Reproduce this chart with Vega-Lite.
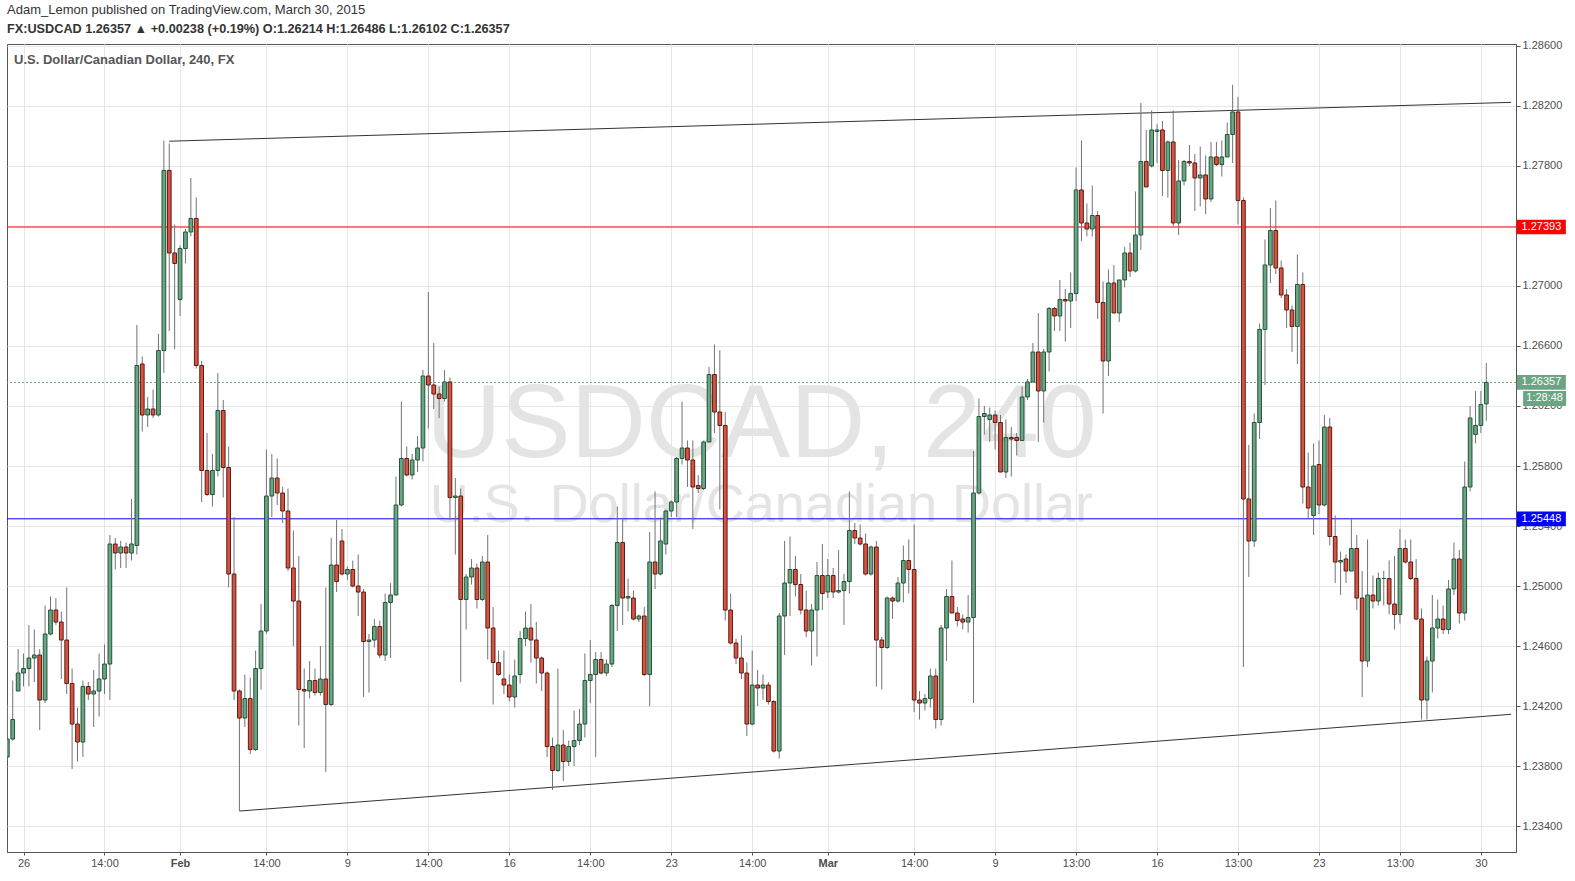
{
"$schema": "https://vega.github.io/schema/vega-lite/v6.json",
"width": 1509,
"height": 808,
"autosize": {"type": "none"},
"padding": {"left": 7, "top": 44, "right": 59, "bottom": 29},
"background": "#ffffff",
"config": {"view": {"stroke": "#555555", "strokeWidth": 1}, "font": "Liberation Sans"},
"title": {
  "text": "Adam_Lemon published on TradingView.com, March 30, 2015",
  "subtitle": "FX:USDCAD 1.26357 ▲ +0.00238 (+0.19%) O:1.26214 H:1.26486 L:1.26102 C:1.26357",
  "anchor": "start", "frame": "group", "font": "Liberation Sans", "fontSize": 13, "fontWeight": "normal", "color": "#333333",
  "subtitleFont": "Liberation Sans", "subtitleFontSize": 12.7, "subtitleFontWeight": "bold", "subtitleColor": "#333333", "subtitlePadding": 6, "offset": 4
},
"datasets": {
  "candles": [
{"i":0,"o":1.2386,"h":1.2421,"l":1.2384,"c":1.2398},
{"i":1,"o":1.2398,"h":1.2437,"l":1.2397,"c":1.2411},
{"i":2,"o":1.2430,"h":1.2458,"l":1.2430,"c":1.2442},
{"i":3,"o":1.2442,"h":1.2455,"l":1.2433,"c":1.2445},
{"i":4,"o":1.2445,"h":1.2474,"l":1.2433,"c":1.2452},
{"i":5,"o":1.2452,"h":1.2471,"l":1.2436,"c":1.2454},
{"i":6,"o":1.2454,"h":1.2458,"l":1.2404,"c":1.2424},
{"i":7,"o":1.2424,"h":1.2487,"l":1.2422,"c":1.2468},
{"i":8,"o":1.2468,"h":1.2493,"l":1.2467,"c":1.2484},
{"i":9,"o":1.2484,"h":1.2492,"l":1.2474,"c":1.2476},
{"i":10,"o":1.2476,"h":1.2483,"l":1.2438,"c":1.2464},
{"i":11,"o":1.2464,"h":1.2499,"l":1.2428,"c":1.2435},
{"i":12,"o":1.2435,"h":1.2445,"l":1.2378,"c":1.2408},
{"i":13,"o":1.2408,"h":1.2419,"l":1.2383,"c":1.2396},
{"i":14,"o":1.2396,"h":1.2437,"l":1.2386,"c":1.2433},
{"i":15,"o":1.2433,"h":1.2436,"l":1.2424,"c":1.2428},
{"i":16,"o":1.2428,"h":1.2444,"l":1.2406,"c":1.2430},
{"i":17,"o":1.2430,"h":1.2455,"l":1.2413,"c":1.2438},
{"i":18,"o":1.2438,"h":1.2461,"l":1.2428,"c":1.2448},
{"i":19,"o":1.2448,"h":1.2534,"l":1.2424,"c":1.2528},
{"i":20,"o":1.2528,"h":1.2532,"l":1.2511,"c":1.2522},
{"i":21,"o":1.2522,"h":1.2530,"l":1.2512,"c":1.2526},
{"i":22,"o":1.2526,"h":1.2529,"l":1.2512,"c":1.2522},
{"i":23,"o":1.2522,"h":1.2558,"l":1.2517,"c":1.2528},
{"i":24,"o":1.2527,"h":1.2674,"l":1.2521,"c":1.2647},
{"i":25,"o":1.2648,"h":1.2653,"l":1.2603,"c":1.2614},
{"i":26,"o":1.2614,"h":1.2626,"l":1.2606,"c":1.2618},
{"i":27,"o":1.2618,"h":1.2631,"l":1.2612,"c":1.2614},
{"i":28,"o":1.2614,"h":1.2668,"l":1.2613,"c":1.2657},
{"i":29,"o":1.2657,"h":1.2797,"l":1.2642,"c":1.2777},
{"i":30,"o":1.2777,"h":1.2795,"l":1.2670,"c":1.2722},
{"i":31,"o":1.2722,"h":1.2741,"l":1.2658,"c":1.2715},
{"i":32,"o":1.2691,"h":1.2727,"l":1.2680,"c":1.2725},
{"i":33,"o":1.2725,"h":1.2738,"l":1.2715,"c":1.2736},
{"i":34,"o":1.2736,"h":1.2772,"l":1.2733,"c":1.2745},
{"i":35,"o":1.2745,"h":1.2759,"l":1.2645,"c":1.2647},
{"i":36,"o":1.2647,"h":1.2650,"l":1.2556,"c":1.2577},
{"i":37,"o":1.2577,"h":1.2602,"l":1.2560,"c":1.2561},
{"i":38,"o":1.2561,"h":1.2588,"l":1.2553,"c":1.2577},
{"i":39,"o":1.2577,"h":1.2642,"l":1.2573,"c":1.2617},
{"i":40,"o":1.2617,"h":1.2624,"l":1.2559,"c":1.2579},
{"i":41,"o":1.2579,"h":1.2593,"l":1.2499,"c":1.2508},
{"i":42,"o":1.2508,"h":1.2546,"l":1.2424,"c":1.2430},
{"i":43,"o":1.2430,"h":1.2431,"l":1.2350,"c":1.2412},
{"i":44,"o":1.2412,"h":1.2441,"l":1.2406,"c":1.2425},
{"i":45,"o":1.2425,"h":1.2439,"l":1.2388,"c":1.2391},
{"i":46,"o":1.2391,"h":1.2457,"l":1.2390,"c":1.2445},
{"i":47,"o":1.2445,"h":1.2488,"l":1.2431,"c":1.2470},
{"i":48,"o":1.2470,"h":1.2591,"l":1.2468,"c":1.2560},
{"i":49,"o":1.2560,"h":1.2588,"l":1.2546,"c":1.2572},
{"i":50,"o":1.2572,"h":1.2585,"l":1.2554,"c":1.2562},
{"i":51,"o":1.2562,"h":1.2566,"l":1.2542,"c":1.2550},
{"i":52,"o":1.2550,"h":1.2565,"l":1.2510,"c":1.2512},
{"i":53,"o":1.2512,"h":1.2537,"l":1.2460,"c":1.2490},
{"i":54,"o":1.2490,"h":1.2520,"l":1.2407,"c":1.2431},
{"i":55,"o":1.2431,"h":1.2445,"l":1.2392,"c":1.2430},
{"i":56,"o":1.2430,"h":1.2450,"l":1.2425,"c":1.2437},
{"i":57,"o":1.2437,"h":1.2445,"l":1.2427,"c":1.2429},
{"i":58,"o":1.2429,"h":1.2460,"l":1.2427,"c":1.2438},
{"i":59,"o":1.2438,"h":1.2499,"l":1.2376,"c":1.2421},
{"i":60,"o":1.2421,"h":1.2532,"l":1.2420,"c":1.2514},
{"i":61,"o":1.2514,"h":1.2544,"l":1.2496,"c":1.2503},
{"i":62,"o":1.2530,"h":1.2538,"l":1.2507,"c":1.2508},
{"i":63,"o":1.2508,"h":1.2513,"l":1.2504,"c":1.2511},
{"i":64,"o":1.2511,"h":1.2517,"l":1.2499,"c":1.2500},
{"i":65,"o":1.2500,"h":1.2521,"l":1.2480,"c":1.2496},
{"i":66,"o":1.2496,"h":1.2498,"l":1.2426,"c":1.2463},
{"i":67,"o":1.2463,"h":1.2468,"l":1.2429,"c":1.2464},
{"i":68,"o":1.2464,"h":1.2478,"l":1.2459,"c":1.2473},
{"i":69,"o":1.2473,"h":1.2477,"l":1.2452,"c":1.2454},
{"i":70,"o":1.2454,"h":1.2495,"l":1.2450,"c":1.2489},
{"i":71,"o":1.2489,"h":1.2502,"l":1.2452,"c":1.2494},
{"i":72,"o":1.2494,"h":1.2573,"l":1.2494,"c":1.2554},
{"i":73,"o":1.2554,"h":1.2623,"l":1.2553,"c":1.2585},
{"i":74,"o":1.2585,"h":1.2593,"l":1.2573,"c":1.2574},
{"i":75,"o":1.2574,"h":1.2588,"l":1.2571,"c":1.2584},
{"i":76,"o":1.2584,"h":1.2600,"l":1.2576,"c":1.2592},
{"i":77,"o":1.2592,"h":1.2644,"l":1.2583,"c":1.2640},
{"i":78,"o":1.2640,"h":1.2696,"l":1.2605,"c":1.2634},
{"i":79,"o":1.2634,"h":1.2662,"l":1.2618,"c":1.2628},
{"i":80,"o":1.2628,"h":1.2633,"l":1.2612,"c":1.2625},
{"i":81,"o":1.2625,"h":1.2644,"l":1.2623,"c":1.2636},
{"i":82,"o":1.2636,"h":1.2639,"l":1.2544,"c":1.2559},
{"i":83,"o":1.2559,"h":1.2572,"l":1.2521,"c":1.2560},
{"i":84,"o":1.2560,"h":1.2565,"l":1.2436,"c":1.2491},
{"i":85,"o":1.2491,"h":1.2508,"l":1.2471,"c":1.2506},
{"i":86,"o":1.2506,"h":1.2518,"l":1.2501,"c":1.2512},
{"i":87,"o":1.2512,"h":1.2515,"l":1.2485,"c":1.2491},
{"i":88,"o":1.2491,"h":1.2520,"l":1.2490,"c":1.2516},
{"i":89,"o":1.2516,"h":1.2534,"l":1.2451,"c":1.2472},
{"i":90,"o":1.2472,"h":1.2486,"l":1.2421,"c":1.2449},
{"i":91,"o":1.2449,"h":1.2457,"l":1.2440,"c":1.2441},
{"i":92,"o":1.2438,"h":1.2457,"l":1.2428,"c":1.2434},
{"i":93,"o":1.2434,"h":1.2441,"l":1.2423,"c":1.2426},
{"i":94,"o":1.2426,"h":1.2451,"l":1.2419,"c":1.2440},
{"i":95,"o":1.2441,"h":1.2470,"l":1.2435,"c":1.2465},
{"i":96,"o":1.2465,"h":1.2483,"l":1.2460,"c":1.2472},
{"i":97,"o":1.2472,"h":1.2488,"l":1.2449,"c":1.2464},
{"i":98,"o":1.2464,"h":1.2476,"l":1.2435,"c":1.2452},
{"i":99,"o":1.2452,"h":1.2453,"l":1.2430,"c":1.2442},
{"i":100,"o":1.2442,"h":1.2443,"l":1.2386,"c":1.2393},
{"i":101,"o":1.2393,"h":1.2399,"l":1.2364,"c":1.2377},
{"i":102,"o":1.2377,"h":1.2445,"l":1.2376,"c":1.2394},
{"i":103,"o":1.2394,"h":1.2404,"l":1.2370,"c":1.2383},
{"i":104,"o":1.2383,"h":1.2397,"l":1.2380,"c":1.2393},
{"i":105,"o":1.2393,"h":1.2417,"l":1.2380,"c":1.2397},
{"i":106,"o":1.2397,"h":1.2418,"l":1.2394,"c":1.2408},
{"i":107,"o":1.2408,"h":1.2455,"l":1.2399,"c":1.2437},
{"i":108,"o":1.2437,"h":1.2464,"l":1.2422,"c":1.2441},
{"i":109,"o":1.2441,"h":1.2456,"l":1.2386,"c":1.2451},
{"i":110,"o":1.2451,"h":1.2456,"l":1.2441,"c":1.2442},
{"i":111,"o":1.2442,"h":1.2451,"l":1.2440,"c":1.2448},
{"i":112,"o":1.2448,"h":1.2488,"l":1.2446,"c":1.2487},
{"i":113,"o":1.2487,"h":1.2553,"l":1.2470,"c":1.2529},
{"i":114,"o":1.2529,"h":1.2545,"l":1.2474,"c":1.2492},
{"i":115,"o":1.2492,"h":1.2505,"l":1.2483,"c":1.2493},
{"i":116,"o":1.2492,"h":1.2497,"l":1.2477,"c":1.2478},
{"i":117,"o":1.2478,"h":1.2481,"l":1.2476,"c":1.2480},
{"i":118,"o":1.2480,"h":1.2486,"l":1.2440,"c":1.2441},
{"i":119,"o":1.2441,"h":1.2536,"l":1.2420,"c":1.2516},
{"i":120,"o":1.2516,"h":1.2563,"l":1.2498,"c":1.2508},
{"i":121,"o":1.2508,"h":1.2545,"l":1.2507,"c":1.2530},
{"i":122,"o":1.2528,"h":1.2551,"l":1.2521,"c":1.2550},
{"i":123,"o":1.2550,"h":1.2557,"l":1.2546,"c":1.2556},
{"i":124,"o":1.2556,"h":1.2586,"l":1.2546,"c":1.2585},
{"i":125,"o":1.2585,"h":1.2623,"l":1.2581,"c":1.2592},
{"i":126,"o":1.2592,"h":1.2597,"l":1.2566,"c":1.2584},
{"i":127,"o":1.2584,"h":1.2597,"l":1.2538,"c":1.2566},
{"i":128,"o":1.2567,"h":1.2574,"l":1.2562,"c":1.2565},
{"i":129,"o":1.2565,"h":1.2597,"l":1.2564,"c":1.2596},
{"i":130,"o":1.2596,"h":1.2646,"l":1.2596,"c":1.2641},
{"i":131,"o":1.2641,"h":1.2661,"l":1.2602,"c":1.2616},
{"i":132,"o":1.2616,"h":1.2657,"l":1.2551,"c":1.2607},
{"i":133,"o":1.2607,"h":1.2616,"l":1.2477,"c":1.2484},
{"i":134,"o":1.2484,"h":1.2495,"l":1.2461,"c":1.2462},
{"i":135,"o":1.2462,"h":1.2465,"l":1.2448,"c":1.2452},
{"i":136,"o":1.2452,"h":1.2467,"l":1.2438,"c":1.2442},
{"i":137,"o":1.2442,"h":1.2449,"l":1.2400,"c":1.2408},
{"i":138,"o":1.2408,"h":1.2457,"l":1.2407,"c":1.2434},
{"i":139,"o":1.2434,"h":1.2444,"l":1.2420,"c":1.2432},
{"i":140,"o":1.2432,"h":1.2441,"l":1.2424,"c":1.2434},
{"i":141,"o":1.2434,"h":1.2436,"l":1.2421,"c":1.2423},
{"i":142,"o":1.2423,"h":1.2424,"l":1.2389,"c":1.2390},
{"i":143,"o":1.2390,"h":1.2482,"l":1.2385,"c":1.2480},
{"i":144,"o":1.2480,"h":1.2530,"l":1.2454,"c":1.2502},
{"i":145,"o":1.2502,"h":1.2533,"l":1.2480,"c":1.2511},
{"i":146,"o":1.2511,"h":1.2520,"l":1.2493,"c":1.2501},
{"i":147,"o":1.2501,"h":1.2508,"l":1.2481,"c":1.2484},
{"i":148,"o":1.2484,"h":1.2497,"l":1.2466,"c":1.2470},
{"i":149,"o":1.2470,"h":1.2488,"l":1.2447,"c":1.2484},
{"i":150,"o":1.2484,"h":1.2516,"l":1.2453,"c":1.2507},
{"i":151,"o":1.2507,"h":1.2528,"l":1.2484,"c":1.2495},
{"i":152,"o":1.2496,"h":1.2518,"l":1.2492,"c":1.2507},
{"i":153,"o":1.2507,"h":1.2512,"l":1.2492,"c":1.2496},
{"i":154,"o":1.2496,"h":1.2524,"l":1.2495,"c":1.2497},
{"i":155,"o":1.2497,"h":1.2508,"l":1.2474,"c":1.2503},
{"i":156,"o":1.2503,"h":1.2563,"l":1.2495,"c":1.2537},
{"i":157,"o":1.2537,"h":1.2542,"l":1.2528,"c":1.2532},
{"i":158,"o":1.2532,"h":1.2541,"l":1.2527,"c":1.2528},
{"i":159,"o":1.2528,"h":1.2535,"l":1.2507,"c":1.2508},
{"i":160,"o":1.2508,"h":1.2527,"l":1.2507,"c":1.2526},
{"i":161,"o":1.2526,"h":1.2530,"l":1.2433,"c":1.2464},
{"i":162,"o":1.2464,"h":1.2466,"l":1.2431,"c":1.2459},
{"i":163,"o":1.2459,"h":1.2493,"l":1.2458,"c":1.2492},
{"i":164,"o":1.2492,"h":1.2493,"l":1.2478,"c":1.2490},
{"i":165,"o":1.2490,"h":1.2506,"l":1.2489,"c":1.2502},
{"i":166,"o":1.2502,"h":1.2527,"l":1.2489,"c":1.2517},
{"i":167,"o":1.2517,"h":1.2531,"l":1.2495,"c":1.2511},
{"i":168,"o":1.2511,"h":1.2541,"l":1.2416,"c":1.2424},
{"i":169,"o":1.2424,"h":1.2430,"l":1.2411,"c":1.2422},
{"i":170,"o":1.2422,"h":1.2428,"l":1.2417,"c":1.2425},
{"i":171,"o":1.2425,"h":1.2445,"l":1.2419,"c":1.2440},
{"i":172,"o":1.2440,"h":1.2445,"l":1.2405,"c":1.2411},
{"i":173,"o":1.2411,"h":1.2474,"l":1.2407,"c":1.2472},
{"i":174,"o":1.2472,"h":1.2498,"l":1.2450,"c":1.2493},
{"i":175,"o":1.2493,"h":1.2517,"l":1.2482,"c":1.2482},
{"i":176,"o":1.2482,"h":1.2486,"l":1.2473,"c":1.2477},
{"i":177,"o":1.2478,"h":1.2481,"l":1.2471,"c":1.2476},
{"i":178,"o":1.2476,"h":1.2494,"l":1.2469,"c":1.2479},
{"i":179,"o":1.2479,"h":1.2590,"l":1.2422,"c":1.2562},
{"i":180,"o":1.2562,"h":1.2625,"l":1.2561,"c":1.2613},
{"i":181,"o":1.2613,"h":1.2620,"l":1.2601,"c":1.2615},
{"i":182,"o":1.2611,"h":1.2619,"l":1.2596,"c":1.2614},
{"i":183,"o":1.2614,"h":1.2617,"l":1.2591,"c":1.2609},
{"i":184,"o":1.2609,"h":1.2614,"l":1.2576,"c":1.2576},
{"i":185,"o":1.2576,"h":1.2611,"l":1.2572,"c":1.2599},
{"i":186,"o":1.2599,"h":1.2606,"l":1.2573,"c":1.2598},
{"i":187,"o":1.2599,"h":1.2602,"l":1.2587,"c":1.2597},
{"i":188,"o":1.2597,"h":1.2633,"l":1.2597,"c":1.2626},
{"i":189,"o":1.2626,"h":1.2638,"l":1.2624,"c":1.2636},
{"i":190,"o":1.2636,"h":1.2662,"l":1.2636,"c":1.2656},
{"i":191,"o":1.2656,"h":1.2682,"l":1.2596,"c":1.2630},
{"i":192,"o":1.2630,"h":1.2658,"l":1.2609,"c":1.2656},
{"i":193,"o":1.2656,"h":1.2686,"l":1.2643,"c":1.2685},
{"i":194,"o":1.2685,"h":1.2686,"l":1.2670,"c":1.2680},
{"i":195,"o":1.2680,"h":1.2704,"l":1.2670,"c":1.2691},
{"i":196,"o":1.2691,"h":1.2698,"l":1.2663,"c":1.2690},
{"i":197,"o":1.2690,"h":1.2709,"l":1.2672,"c":1.2695},
{"i":198,"o":1.2695,"h":1.2779,"l":1.2690,"c":1.2764},
{"i":199,"o":1.2764,"h":1.2797,"l":1.2730,"c":1.2742},
{"i":200,"o":1.2742,"h":1.2755,"l":1.2733,"c":1.2738},
{"i":201,"o":1.2738,"h":1.2767,"l":1.2733,"c":1.2747},
{"i":202,"o":1.2747,"h":1.2750,"l":1.2678,"c":1.2689},
{"i":203,"o":1.2689,"h":1.2703,"l":1.2615,"c":1.2650},
{"i":204,"o":1.2650,"h":1.2711,"l":1.2640,"c":1.2702},
{"i":205,"o":1.2702,"h":1.2714,"l":1.2682,"c":1.2682},
{"i":206,"o":1.2682,"h":1.2704,"l":1.2676,"c":1.2704},
{"i":207,"o":1.2704,"h":1.2726,"l":1.2699,"c":1.2722},
{"i":208,"o":1.2722,"h":1.2729,"l":1.2706,"c":1.2710},
{"i":209,"o":1.2710,"h":1.2763,"l":1.2709,"c":1.2734},
{"i":210,"o":1.2734,"h":1.2822,"l":1.2724,"c":1.2783},
{"i":211,"o":1.2783,"h":1.2804,"l":1.2766,"c":1.2766},
{"i":212,"o":1.2780,"h":1.2817,"l":1.2779,"c":1.2804},
{"i":213,"o":1.2803,"h":1.2808,"l":1.2782,"c":1.2804},
{"i":214,"o":1.2804,"h":1.2810,"l":1.2760,"c":1.2777},
{"i":215,"o":1.2777,"h":1.2797,"l":1.2759,"c":1.2796},
{"i":216,"o":1.2796,"h":1.2817,"l":1.2740,"c":1.2742},
{"i":217,"o":1.2742,"h":1.2784,"l":1.2734,"c":1.2770},
{"i":218,"o":1.2770,"h":1.2784,"l":1.2767,"c":1.2783},
{"i":219,"o":1.2783,"h":1.2794,"l":1.2780,"c":1.2782},
{"i":220,"o":1.2782,"h":1.2788,"l":1.2750,"c":1.2772},
{"i":221,"o":1.2772,"h":1.2793,"l":1.2753,"c":1.2774},
{"i":222,"o":1.2774,"h":1.2787,"l":1.2748,"c":1.2758},
{"i":223,"o":1.2758,"h":1.2796,"l":1.2756,"c":1.2786},
{"i":224,"o":1.2786,"h":1.2796,"l":1.2780,"c":1.2781},
{"i":225,"o":1.2781,"h":1.2797,"l":1.2773,"c":1.2786},
{"i":226,"o":1.2786,"h":1.2809,"l":1.2786,"c":1.2801},
{"i":227,"o":1.2801,"h":1.2834,"l":1.2782,"c":1.2816},
{"i":228,"o":1.2816,"h":1.2826,"l":1.2741,"c":1.2757},
{"i":229,"o":1.2757,"h":1.2759,"l":1.2446,"c":1.2558},
{"i":230,"o":1.2558,"h":1.2594,"l":1.2506,"c":1.2530},
{"i":231,"o":1.2530,"h":1.2615,"l":1.2526,"c":1.2609},
{"i":232,"o":1.2609,"h":1.2675,"l":1.2598,"c":1.2671},
{"i":233,"o":1.2671,"h":1.2731,"l":1.2634,"c":1.2714},
{"i":234,"o":1.2714,"h":1.2752,"l":1.2702,"c":1.2737},
{"i":235,"o":1.2737,"h":1.2757,"l":1.2708,"c":1.2712},
{"i":236,"o":1.2712,"h":1.2717,"l":1.2692,"c":1.2694},
{"i":237,"o":1.2694,"h":1.2698,"l":1.2672,"c":1.2684},
{"i":238,"o":1.2684,"h":1.2687,"l":1.2656,"c":1.2673},
{"i":239,"o":1.2673,"h":1.2721,"l":1.2648,"c":1.2701},
{"i":240,"o":1.2701,"h":1.2709,"l":1.2555,"c":1.2566},
{"i":241,"o":1.2566,"h":1.2589,"l":1.2545,"c":1.2552},
{"i":242,"o":1.2547,"h":1.2595,"l":1.2534,"c":1.2580},
{"i":243,"o":1.2581,"h":1.2597,"l":1.2548,"c":1.2554},
{"i":244,"o":1.2554,"h":1.2614,"l":1.2553,"c":1.2606},
{"i":245,"o":1.2606,"h":1.2612,"l":1.2527,"c":1.2533},
{"i":246,"o":1.2533,"h":1.2547,"l":1.2502,"c":1.2516},
{"i":247,"o":1.2516,"h":1.2523,"l":1.2494,"c":1.2517},
{"i":248,"o":1.2518,"h":1.2521,"l":1.2502,"c":1.2510},
{"i":249,"o":1.2510,"h":1.2545,"l":1.2510,"c":1.2525},
{"i":250,"o":1.2525,"h":1.2534,"l":1.2484,"c":1.2492},
{"i":251,"o":1.2492,"h":1.2510,"l":1.2426,"c":1.2450},
{"i":252,"o":1.2450,"h":1.2531,"l":1.2446,"c":1.2494},
{"i":253,"o":1.2494,"h":1.2507,"l":1.2485,"c":1.2490},
{"i":254,"o":1.2490,"h":1.2509,"l":1.2487,"c":1.2505},
{"i":255,"o":1.2505,"h":1.2510,"l":1.2487,"c":1.2505},
{"i":256,"o":1.2505,"h":1.2517,"l":1.2481,"c":1.2488},
{"i":257,"o":1.2488,"h":1.2520,"l":1.2471,"c":1.2481},
{"i":258,"o":1.2481,"h":1.2538,"l":1.2475,"c":1.2525},
{"i":259,"o":1.2525,"h":1.2531,"l":1.2515,"c":1.2516},
{"i":260,"o":1.2516,"h":1.2531,"l":1.2504,"c":1.2505},
{"i":261,"o":1.2505,"h":1.2518,"l":1.2477,"c":1.2478},
{"i":262,"o":1.2478,"h":1.2485,"l":1.2411,"c":1.2424},
{"i":263,"o":1.2424,"h":1.2453,"l":1.2411,"c":1.2450},
{"i":264,"o":1.2450,"h":1.2494,"l":1.2429,"c":1.2472},
{"i":265,"o":1.2472,"h":1.2491,"l":1.2465,"c":1.2478},
{"i":266,"o":1.2478,"h":1.2487,"l":1.2468,"c":1.2471},
{"i":267,"o":1.2471,"h":1.2504,"l":1.2468,"c":1.2498},
{"i":268,"o":1.2498,"h":1.2529,"l":1.2494,"c":1.2518},
{"i":269,"o":1.2518,"h":1.2524,"l":1.2475,"c":1.2482},
{"i":270,"o":1.2482,"h":1.2583,"l":1.2477,"c":1.2566},
{"i":271,"o":1.2566,"h":1.2620,"l":1.2563,"c":1.2612},
{"i":272,"o":1.2601,"h":1.2630,"l":1.2595,"c":1.2607},
{"i":273,"o":1.2607,"h":1.2630,"l":1.2602,"c":1.2621},
{"i":274,"o":1.26214,"h":1.26486,"l":1.26102,"c":1.26357}
  ],
  "levels": [
    {"name": "resistance", "price": 1.27393, "label": "1.27393"},
    {"name": "support", "price": 1.25448, "label": "1.25448"},
    {"name": "last", "price": 1.26357, "label": "1.26357"}
  ],
  "trend": [
    {"line": "upper", "i": 30, "price": 1.27965},
    {"line": "upper", "i": 278.6, "price": 1.28224},
    {"line": "lower", "i": 43, "price": 1.2350},
    {"line": "lower", "i": 278.6, "price": 1.24145}
  ]
},
"layer": [
  {
    "data": {"values": [{}]},
    "mark": {"type": "text", "text": "USDCAD, 240", "fontSize": 104, "color": "#e4e4e4", "align": "center", "baseline": "alphabetic", "font": "Liberation Sans"},
    "encoding": {
      "x": {"datum": 139.7, "type": "quantitative", "scale": {"domain": [-0.06, 279.5], "nice": false, "zero": false, "padding": 0},
        "axis": {"values": [3,18,32,48,63,78,93,108,123,138,152,168,183,198,213,228,243,258,273],
          "labelExpr": "['26','14:00','Feb','14:00','9','14:00','16','14:00','23','14:00','Mar','14:00','9','13:00','16','13:00','23','13:00','30'][indexof([3,18,32,48,63,78,93,108,123,138,152,168,183,198,213,228,243,258,273], datum.value)]",
          "grid": true, "gridColor": "#e6e6e6", "domainColor": "#555555", "tickColor": "#555555", "tickSize": 3,
          "labelFontSize": 11, "labelColor": "#4d4d4d", "labelPadding": 2, "labelFont": "Liberation Sans",
          "labelFontWeight": {"condition": {"test": "datum.value == 32 || datum.value == 152", "value": "bold"}, "value": "normal"},
          "labelFlush": false, "labelOverlap": false, "title": null}},
      "y": {"datum": 1.2586, "type": "quantitative", "scale": {"domain": [1.23227, 1.28613], "nice": false, "zero": false, "padding": 0},
        "axis": {"orient": "right", "values": [1.234,1.236,1.238,1.24,1.242,1.244,1.246,1.248,1.25,1.252,1.254,1.256,1.258,1.26,1.262,1.264,1.266,1.268,1.27,1.272,1.274,1.276,1.278,1.28,1.282,1.284,1.286],
          "format": ".5f", "grid": true, "gridColor": "#e6e6e6", "domainColor": "#555555", "tickColor": "#555555", "tickSize": 4,
          "labelFontSize": 11, "labelColor": "#4d4d4d", "labelPadding": 2, "labelFont": "Liberation Sans",
          "labelFlush": false, "labelOverlap": false, "title": null}}
    }
  },
  {
    "data": {"values": [{}]},
    "mark": {"type": "text", "text": "U.S. Dollar/Canadian Dollar", "fontSize": 54, "color": "#e4e4e4", "align": "center", "baseline": "alphabetic", "font": "Liberation Sans"},
    "encoding": {
      "x": {"datum": 139.7, "type": "quantitative"},
      "y": {"datum": 1.25427, "type": "quantitative"}
    }
  },
  {
    "data": {"values": [{}]},
    "mark": {"type": "text", "text": "U.S. Dollar/Canadian Dollar, 240, FX", "fontSize": 13, "fontWeight": "bold", "color": "#555555", "align": "left", "baseline": "middle", "font": "Liberation Sans"},
    "encoding": {
      "x": {"datum": 1.25, "type": "quantitative"},
      "y": {"datum": 1.28507, "type": "quantitative"}
    }
  },
  {
    "data": {"name": "levels"},
    "transform": [{"filter": "datum.name == 'resistance'"}],
    "mark": {"type": "rule", "color": "#ff0000", "strokeWidth": 1},
    "encoding": {"y": {"field": "price", "type": "quantitative"}}
  },
  {
    "data": {"name": "levels"},
    "transform": [{"filter": "datum.name == 'support'"}],
    "mark": {"type": "rule", "color": "#0000ff", "strokeWidth": 1},
    "encoding": {"y": {"field": "price", "type": "quantitative"}}
  },
  {
    "data": {"name": "levels"},
    "transform": [{"filter": "datum.name == 'last'"}],
    "mark": {"type": "rule", "color": "#6ba583", "strokeWidth": 1, "strokeDash": [2, 2]},
    "encoding": {"y": {"field": "price", "type": "quantitative"}}
  },
  {
    "data": {"name": "trend"},
    "mark": {"type": "line", "color": "#333333", "strokeWidth": 1, "clip": true},
    "encoding": {
      "x": {"field": "i", "type": "quantitative"},
      "y": {"field": "price", "type": "quantitative"},
      "detail": {"field": "line"}
    }
  },
  {
    "data": {"name": "candles"},
    "mark": {"type": "rule", "color": "#737375", "strokeWidth": 1, "clip": true},
    "encoding": {
      "x": {"field": "i", "type": "quantitative"},
      "y": {"field": "l", "type": "quantitative"},
      "y2": {"field": "h"}
    }
  },
  {
    "data": {"name": "candles"},
    "mark": {"type": "bar", "size": 3.7, "strokeWidth": 1, "clip": true},
    "encoding": {
      "x": {"field": "i", "type": "quantitative"},
      "y": {"field": "o", "type": "quantitative"},
      "y2": {"field": "c"},
      "fill": {"condition": {"test": "datum.c >= datum.o", "value": "#6ba583"}, "value": "#d75442"},
      "stroke": {"condition": {"test": "datum.c >= datum.o", "value": "#225437"}, "value": "#5b1a13"}
    }
  },
  {
    "data": {"name": "levels"},
    "mark": {"type": "point", "shape": "M-1,-0.3L1,-0.3L1,0.3L-1,0.3Z", "size": 2401, "filled": true, "opacity": 1, "strokeWidth": 0},
    "encoding": {
      "x": {"datum": 284.2, "type": "quantitative"},
      "y": {"field": "price", "type": "quantitative"},
      "color": {"field": "name", "type": "nominal", "scale": {"domain": ["resistance", "support", "last"], "range": ["#ff0000", "#0000ff", "#6ba583"]}, "legend": null}
    }
  },
  {
    "data": {"name": "levels"},
    "mark": {"type": "text", "fontSize": 11, "color": "#ffffff", "align": "center", "baseline": "middle", "font": "Liberation Sans"},
    "encoding": {
      "x": {"datum": 284.2, "type": "quantitative"},
      "y": {"field": "price", "type": "quantitative"},
      "text": {"field": "label"}
    }
  },
  {
    "data": {"name": "levels"},
    "transform": [{"filter": "datum.name == 'last'"}],
    "mark": {"type": "point", "shape": "M-1,-0.35L1,-0.35L1,0.35L-1,0.35Z", "size": 1849, "filled": true, "opacity": 1, "strokeWidth": 0, "color": "#6ba583", "yOffset": 16},
    "encoding": {
      "x": {"datum": 284.8, "type": "quantitative"},
      "y": {"field": "price", "type": "quantitative"}
    }
  },
  {
    "data": {"name": "levels"},
    "transform": [{"filter": "datum.name == 'last'"}],
    "mark": {"type": "text", "text": "1:28:48", "fontSize": 11, "color": "#ffffff", "align": "center", "baseline": "middle", "font": "Liberation Sans", "yOffset": 16},
    "encoding": {
      "x": {"datum": 284.8, "type": "quantitative"},
      "y": {"field": "price", "type": "quantitative"}
    }
  }
]
}
